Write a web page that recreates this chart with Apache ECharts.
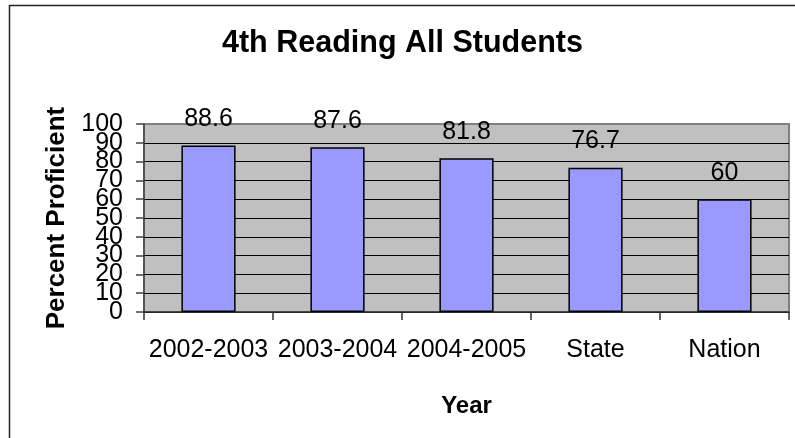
<!DOCTYPE html>
<html>
<head>
<meta charset="utf-8">
<script src="https://cdn.jsdelivr.net/npm/echarts@6/dist/echarts.min.js"></script>
<style>
html,body{margin:0;padding:0;background:#fff;}
#chart{width:795px;height:438px;}
</style>
</head>
<body>
<div id="chart"></div>
<script>
const titleText = '4th Reading All Students';
const categories = ['2002-2003', '2003-2004', '2004-2005', 'State', 'Nation'];
const values = [88.6, 87.6, 81.8, 76.7, 60];
const yTicksEven = [0, 20, 40, 60, 80, 100];
const yTicksOdd = [10, 30, 50, 70, 90];
const yAxisName = 'Percent Proficient';
const xAxisName = 'Year';

const FONT = 'Arial, "Liberation Sans", sans-serif';
const splitColors = [];
for (let i = 0; i < 10; i++) splitColors.push('#000000');
splitColors.push('#808080');

const yLabelStyle = {
  margin: 21, fontFamily: FONT, fontSize: 25, color: '#000',
  hideOverlap: false, showMinLabel: true, showMaxLabel: true
};

const chart = echarts.init(document.getElementById('chart'), null, {renderer: 'canvas'});
chart.setOption({
  backgroundColor: '#ffffff',
  animation: false,
  title: {
    text: titleText,
    left: 222,
    top: 28,
    padding: 0,
    textStyle: {fontFamily: FONT, fontSize: 30.5, fontWeight: 'bold', color: '#000'}
  },
  graphic: [{
    type: 'rect',
    shape: {x: 9.5, y: 5.5, width: 800, height: 450},
    style: {fill: 'none', stroke: '#222', lineWidth: 1.5},
    silent: true
  }],
  grid: {
    left: 144, right: 6, top: 124, bottom: 126,
    show: true, backgroundColor: '#C0C0C0',
    borderColor: '#808080', borderWidth: 2
  },
  xAxis: {
    type: 'category',
    data: categories,
    name: xAxisName,
    nameLocation: 'middle',
    nameGap: 82,
    nameTextStyle: {fontFamily: FONT, fontSize: 24, fontWeight: 'bold', color: '#000'},
    axisLine: {show: true, lineStyle: {color: '#333', width: 1.5}},
    axisTick: {show: true, length: 8, lineStyle: {color: '#333', width: 1.5}},
    axisLabel: {interval: 0, margin: 26, fontFamily: FONT, fontSize: 25, color: '#000'},
    splitLine: {show: false}
  },
  yAxis: [{
    type: 'value',
    position: 'left',
    min: 0, max: 100, interval: 10,
    name: yAxisName,
    nameLocation: 'middle',
    nameRotate: 90,
    nameGap: 74,
    nameTextStyle: {fontFamily: FONT, fontSize: 26, fontWeight: 'bold', color: '#000'},
    axisLine: {show: true, lineStyle: {color: '#444', width: 1.5}},
    axisTick: {show: true, length: 8, lineStyle: {color: '#444', width: 1.5}},
    axisLabel: Object.assign({customValues: yTicksEven}, yLabelStyle),
    splitLine: {show: true, lineStyle: {color: splitColors, width: 1}}
  }, {
    type: 'value',
    position: 'left',
    min: 0, max: 100, interval: 10,
    axisLine: {show: false},
    axisTick: {show: false},
    axisLabel: Object.assign({customValues: yTicksOdd}, yLabelStyle),
    splitLine: {show: false}
  }],
  series: [{
    type: 'bar',
    yAxisIndex: 0,
    data: values,
    barWidth: '42%',
    itemStyle: {color: '#9999FF', borderColor: '#000', borderWidth: 1.5},
    label: {
      show: true, position: 'top', distance: 14,
      fontFamily: FONT, fontSize: 25, color: '#000'
    }
  }]
});
</script>
</body>
</html>
